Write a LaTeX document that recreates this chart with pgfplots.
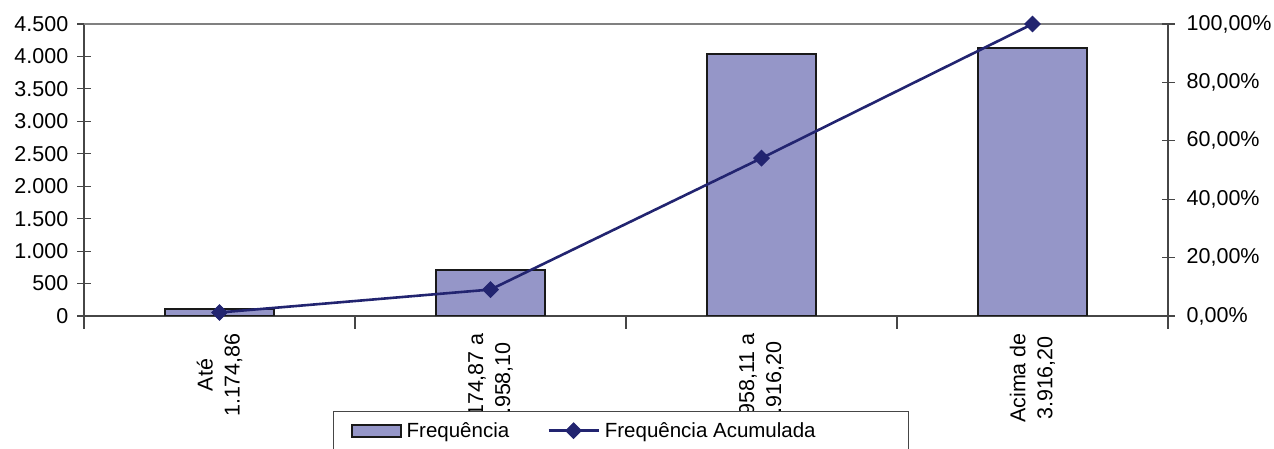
\documentclass[border=0pt]{standalone}
\usepackage{pgfplots}
\pgfplotsset{compat=1.18}
\usepackage{fontspec}
\setmainfont{Liberation Sans}
\definecolor{barfill}{RGB}{149,150,200}
\definecolor{navy}{RGB}{34,36,112}
\definecolor{axisgray}{RGB}{70,70,70}

\pgfplotsset{
  common/.style={
    at={(84pt,133pt)}, anchor=south west,
    scale only axis, width=1084pt, height=292pt,
    xmin=-0.5, xmax=3.5,
    tick align=center, major tick length=13pt,
    axis line style={draw=axisgray, line width=1.6pt, -},
    every tick/.style={draw=axisgray, line width=1.2pt},
    ticklabel style={font=\fontsize{21.5}{27}\selectfont},
    scaled y ticks=false,
  },
  lineleg/.style={legend image code/.code={
    \draw[mark repeat=2, mark phase=2, ##1] plot coordinates {(0pt,0pt) (25pt,0pt) (50pt,0pt)};}},
  barleg/.style={legend image code/.code={
    \draw[fill=barfill, draw=black!90, line width=2.2pt] (0pt,-6pt) rectangle (49pt,6pt);}},
}

\begin{document}
\begin{tikzpicture}
\path[use as bounding box] (0,0) rectangle (1274pt,449pt);

% Frequencia (bars, left axis)
\begin{axis}[
  common,
  ymin=0, ymax=4500, ytick={0,500,...,4500},
  axis x line*=bottom, axis y line*=left,
  yticklabel style={inner sep=0pt, /pgf/number format/1000 sep={.},
    /pgf/number format/assume math mode=true},
  yticklabel shift=9pt,
  ybar, bar width=0.405,
  xtick={0,1,2,3},
  xticklabels={{Até\\1.174,86},{1.174,87 a\\1.958,10},{1.958,11 a\\3.916,20},{Acima de\\3.916,20}},
  xticklabel style={rotate=90, anchor=east, align=center, inner sep=0pt},
  xticklabel shift=4pt,
  xtick style={draw=none},
  extra x ticks={-0.5,0.5,1.5,2.5,3.5},
  extra x tick labels={},
  extra x tick style={xtick style={draw=axisgray}},
]
\addplot[fill=barfill, draw=black!90, line width=2.2pt]
  coordinates {(0,108) (1,705) (2,4038) (3,4125)};
\draw[draw=gray, line width=1.5pt] (rel axis cs:0,1) -- (rel axis cs:1,1);
\end{axis}

% Frequencia acumulada (line, right axis)
\begin{axis}[
  common,
  ymin=0, ymax=100, ytick={0,20,...,100},
  axis x line=none, axis y line*=right,
  clip=false,
  yticklabel={\pgfmathprintnumber[fixed, fixed zerofill, precision=2, use comma,
    assume math mode=true]{\tick}\%},
  yticklabel style={inner sep=0pt},
  yticklabel shift=12pt,
  legend style={at={(0.2297,-0.3253)}, anchor=north west,
    legend columns=2, draw=axisgray, fill=white, line width=1pt,
    font=\fontsize{20.5}{24}\selectfont,
    inner xsep=17pt, inner ysep=9pt,
    /tikz/every odd column/.append style={column sep=3pt},
    /tikz/every even column/.append style={column sep=36pt}},
]
\addlegendimage{barleg}
\addlegendentry{Frequência}
\addplot[navy, line width=2.6pt, mark=square*, mark size=5.5pt,
  mark options={rotate=45, fill=navy, line width=1pt}, lineleg]
  coordinates {(0,1.2) (1,9.06) (2,54.05) (3,100)};
\addlegendentry{Frequência Acumulada\rule{74pt}{0pt}}
\end{axis}
\end{tikzpicture}
\end{document}
